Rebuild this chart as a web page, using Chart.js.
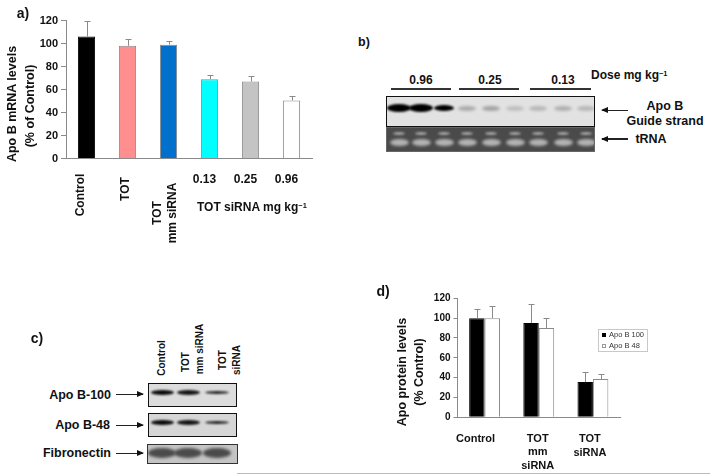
<!DOCTYPE html>
<html><head><meta charset="utf-8">
<script src="https://cdn.jsdelivr.net/npm/chart.js@4"></script>
<style>
html,body{margin:0;padding:0;background:#fff;width:710px;height:474px;overflow:hidden}
#page{position:relative;width:710px;height:474px;font-family:"Liberation Sans",Arial,sans-serif;font-weight:bold;color:#111}
canvas.c{position:absolute}
.t{position:absolute;white-space:nowrap;line-height:1}
.t sup{font-size:.62em;line-height:0;vertical-align:baseline;position:relative;top:-.45em}
.box{position:absolute;box-sizing:border-box;overflow:hidden}
.band{position:absolute;border-radius:50%}
.ln{position:absolute;background:#222}
.ah{position:absolute;width:0;height:0;border-style:solid;border-color:transparent}
</style></head><body><div id="page">
<canvas class="c" id="ca" style="left:0;top:0;width:340px;height:250px"></canvas>
<canvas class="c" id="cd" style="left:370px;top:280px;width:300px;height:194px"></canvas>
</div>
<script>
// Panel a
const aCategories=["Control","TOT","TOT|mm siRNA","0.13","0.25","0.96"];
const aValues=[106,98,99,69,67,50.5];
const aErrorTops=[120,104,102,73,72,54];
const aColors=["#000000","#FF8F8F","#0070CC","#00FFFF","#C4C4C4","#FFFFFF"];
const aTicks=[0,20,40,60,80,100,120];
// Panel d
const dCategories=["Control","TOT|mm|siRNA","TOT|siRNA"];
const dSeries100=[100,95,35.5];
const dSeries48=[100,90,38.5];
const dErrorTops100=[109,114,46];
const dErrorTops48=[112,100,44];
// Panel b band strengths, by lane
const bGuideBands=[1,1,.85,.22,.25,.14,.17,.2,.17];
const bDoses=["0.96","0.25","0.13"];
// Panel c band strengths, by lane
const cBands100=[.95,.9,.85];
const cBands48=[.95,.9,.85];

const AXIS="#8a8a8a";
const FONT='"Liberation Sans",Arial,sans-serif';

const errorBars={id:"errorBars",afterDatasetsDraw(ch){
  const {ctx,scales:{y}}=ch;ctx.save();ctx.strokeStyle=AXIS;ctx.lineWidth=1;
  ch.data.datasets.forEach((ds,i)=>{ch.getDatasetMeta(i).data.forEach((b,j)=>{
    const x=Math.round(b.x)+.5,top=Math.round(y.getPixelForValue(ds.errorTops[j]))+.5;
    ctx.beginPath();ctx.moveTo(x,b.y);ctx.lineTo(x,top);ctx.moveTo(x-3,top);ctx.lineTo(x+3,top);ctx.stroke();
  });});ctx.restore();}};

function yAxis(width,size,tick){return{min:0,max:120,afterBuildTicks(s){s.ticks=aTicks.map(v=>({value:v}));},
  afterFit(s){s.width=width;},border:{color:AXIS},
  grid:{drawOnChartArea:false,color:AXIS,tickLength:tick},
  ticks:{padding:3,color:"#111",font:{family:FONT,size,weight:"bold"}}};}
const xAxis={afterFit(s){s.height=0;},border:{color:AXIS},grid:{display:false},ticks:{display:false}};

const aLabels={id:"aLabels",afterDraw(ch){
  const {ctx,scales:{x}}=ch;ctx.save();ctx.fillStyle="#111";ctx.font='bold 12px '+FONT;
  const horiz=(t,i,dx,y)=>{ctx.textAlign="center";ctx.textBaseline="middle";ctx.fillText(t,x.getPixelForTick(i)+dx,y);};
  const vert=(t,px,cy)=>{ctx.save();ctx.translate(px,cy);ctx.rotate(-Math.PI/2);ctx.textAlign="center";ctx.textBaseline="middle";ctx.fillText(t,0,0);ctx.restore();};
  vert(aCategories[0],x.getPixelForTick(0)-6,195);
  vert(aCategories[1],x.getPixelForTick(1)-2,189);
  const p=aCategories[2].split("|");
  vert(p[0],x.getPixelForTick(2)-11,213);vert(p[1],x.getPixelForTick(2)+4,213);
  [3,4,5].forEach(i=>horiz(aCategories[i],i,-5,180));
  ctx.restore();}};

new Chart(document.getElementById("ca"),{type:"bar",
  data:{labels:aCategories,datasets:[{label:"Apo B mRNA",data:aValues,errorTops:aErrorTops,backgroundColor:aColors,borderColor:aColors.map((c,i)=>i?"#8a8a8a":"#000"),borderWidth:1,barPercentage:.42,categoryPercentage:1}]},
  plugins:[errorBars,aLabels],
  options:{responsive:false,animation:false,devicePixelRatio:1,
    layout:{padding:{left:0,top:20.5,right:28,bottom:91.5}},
    plugins:{legend:{display:false},tooltip:{enabled:false}},
    scales:{x:xAxis,y:yAxis(66,11,5)}}});

const dLabels={id:"dLabels",afterDraw(ch){
  const {ctx,scales:{x}}=ch;ctx.save();ctx.fillStyle="#111";ctx.font='bold 11px '+FONT;ctx.textAlign="center";ctx.textBaseline="middle";
  const offs=[-9,-1,-3],rows=[159,172,186];
  dCategories.forEach((c,i)=>c.split("|").forEach((t,k)=>{
    const r=(c.split("|").length===2&&k===1)?173:rows[k];
    ctx.fillText(t,x.getPixelForTick(i)+offs[i],r);}));
  // legend from the dataset names
  ctx.strokeStyle="#c8c8c8";ctx.lineWidth=1;ctx.strokeRect(228.5,49.5,49,22);
  ctx.font='7.5px '+FONT;ctx.textAlign="left";ctx.fillStyle="#333";
  ch.data.datasets.forEach((ds,i)=>{const y=55+i*11;
    ctx.fillStyle=i?"#fff":"#000";ctx.fillRect(232,y-2,4,4);
    ctx.strokeStyle=i?"#999":"#000";ctx.strokeRect(232.5,y-1.5,3,3);
    ctx.fillStyle="#333";ctx.fillText(ds.label,239,y);});
  ctx.restore();}};

new Chart(document.getElementById("cd"),{type:"bar",
  data:{labels:dCategories,datasets:[
    {label:"Apo B 100",data:dSeries100,errorTops:dErrorTops100,backgroundColor:"#000",borderColor:"#000",borderWidth:1,barPercentage:1,categoryPercentage:.57},
    {label:"Apo B 48",data:dSeries48,errorTops:dErrorTops48,backgroundColor:"#fff",borderColor:"#8a8a8a",borderWidth:1,barPercentage:1,categoryPercentage:.57}]},
  plugins:[errorBars,dLabels],
  options:{responsive:false,animation:false,devicePixelRatio:1,
    layout:{padding:{left:0,top:18.3,right:50,bottom:56.7}},
    plugins:{legend:{display:false},tooltip:{enabled:false}},
    scales:{x:xAxis,y:yAxis(87.5,10,4)}}});

// ---------- annotations and blots
const page=document.getElementById("page");
function txt(s,x,y,size,o={}){const e=document.createElement("div");e.className="t";e.innerHTML=s;
  e.style.fontSize=size+"px";e.style.left=x+"px";e.style.top=y+"px";
  let tf=o.align==="right"?"translate(-100%,-50%)":o.align==="left"?"translate(0,-50%)":"translate(-50%,-50%)";
  if(o.rot)tf+=" rotate(-90deg)";e.style.transform=tf;
  if(o.weight)e.style.fontWeight=o.weight;page.appendChild(e);return e;}
function vtxt(s,x,y,size){return txt(s,x,y,size,{rot:true});}
function box(x,y,w,h,bg,border){const e=document.createElement("div");e.className="box";
  e.style.cssText+=`left:${x}px;top:${y}px;width:${w}px;height:${h}px;background:${bg};border:${border||"1.5px solid #111"}`;
  page.appendChild(e);return e;}
function band(p,cx,cy,w,h,col,blur,op){const e=document.createElement("div");e.className="band";
  e.style.cssText+=`left:${cx-w/2}px;top:${cy-h/2}px;width:${w}px;height:${h}px;background:${col};filter:blur(${blur}px);opacity:${op==null?1:op}`;
  p.appendChild(e);}
function arrow(x1,x2,y,th){const l=document.createElement("div");l.className="ln";const a=Math.min(x1,x2),b=Math.max(x1,x2);
  l.style.cssText+=`left:${a}px;top:${y-(th||1)/2}px;width:${b-a}px;height:${th||1}px`;page.appendChild(l);
  const h=document.createElement("div");h.className="ah";
  if(x2>x1)h.style.cssText+=`left:${x2-6}px;top:${y-3.5}px;border-width:3.5px 0 3.5px 7px;border-left-color:#111`;
  else h.style.cssText+=`left:${x2-1}px;top:${y-3.5}px;border-width:3.5px 7px 3.5px 0;border-right-color:#111`;
  page.appendChild(h);}
function rule(x,y,w,h,c){const l=document.createElement("div");l.className="ln";l.style.cssText+=`left:${x}px;top:${y}px;width:${w}px;height:${h}px;background:${c||"#333"}`;page.appendChild(l);}

// panel a text
txt("a)",23,13,14);
vtxt("Apo B mRNA levels",12,104,12.5);vtxt("(% of Control)",30,106,12.5);
txt("TOT siRNA mg kg<sup>−1</sup>",197,207,12,{align:"left"});

// panel b
txt("b)",364,42,12.5);
const laneB=[399,421,444,467,491,515,538,563,586];
[[391,60],[459,60],[530,61]].forEach(([x,w])=>{rule(x,88,w,2);});
txt(bDoses[0],421,80,12);txt(bDoses[1],490,80,12);txt(bDoses[2],563,80,12);
txt("Dose mg kg<sup>−1</sup>",591,75,12,{align:"left"});
const bTop=box(386,96,209,31,"#e2e2e2");
laneB.forEach((x,i)=>{const s=bGuideBands[i];const strong=s>.5;
  band(bTop,x-387,11,strong?(i==2?20:24):18,strong?(i==2?6:8):5,strong?"#000":"#555",strong?1:1.5,strong?1:s*1.8);});
const bBot=box(386,127,209,25,"#4a4a4a","1.5px solid #666");
laneB.forEach(x=>{band(bBot,x-387,5,12,3,"#a8a8a8",1);band(bBot,x-387,14,19,7,"#b4b4b4",1.5);});
arrow(628,602,110);txt("Apo B",665,106,12.5);txt("Guide strand",665,121,12.5);
arrow(628,602,139,1.5);txt("tRNA",651,139,12.5);

// panel c
txt("c)",37,338,14);
vtxt("Control",162,358,10);
vtxt("TOT",186,362,10);vtxt("mm siRNA",200,349,10);
vtxt("TOT",223,360,10);vtxt("siRNA",237,360,10);
const laneC=[162,188,217];
const c1=box(148,383,89,24,"#dcdcdc");
laneC.forEach((x,i)=>band(c1,x-149,8,i==2?24:23,i==2?3:5,"#000",.9,cBands100[i]));
const c2=box(148,413,89,24,"#d6d6d6");
laneC.forEach((x,i)=>band(c2,x-149,8,i==2?24:23,i==2?3:5,"#000",.9,cBands48[i]));
const c3=box(147,444,91,20,"#c4c4c4","1.5px solid #333");
laneC.forEach(x=>band(c3,x-148,8,28,10,"#4a4a4a",1.6));
txt("Apo B-100",111,395,12.5,{align:"right"});arrow(116,143,394,1);
txt("Apo B-48",110,425,12.5,{align:"right"});arrow(116,143,425,1);
txt("Fibronectin",111,453,12.5,{align:"right"});arrow(116,143,453,1);

// panel d
txt("d)",383,291,14);
vtxt("Apo protein levels",402,372,12.5);vtxt("(% Control)",419,372,12.5);

// page rule along the bottom edge
rule(237,473,473,1,"#bbbbbb");
</script></body></html>
